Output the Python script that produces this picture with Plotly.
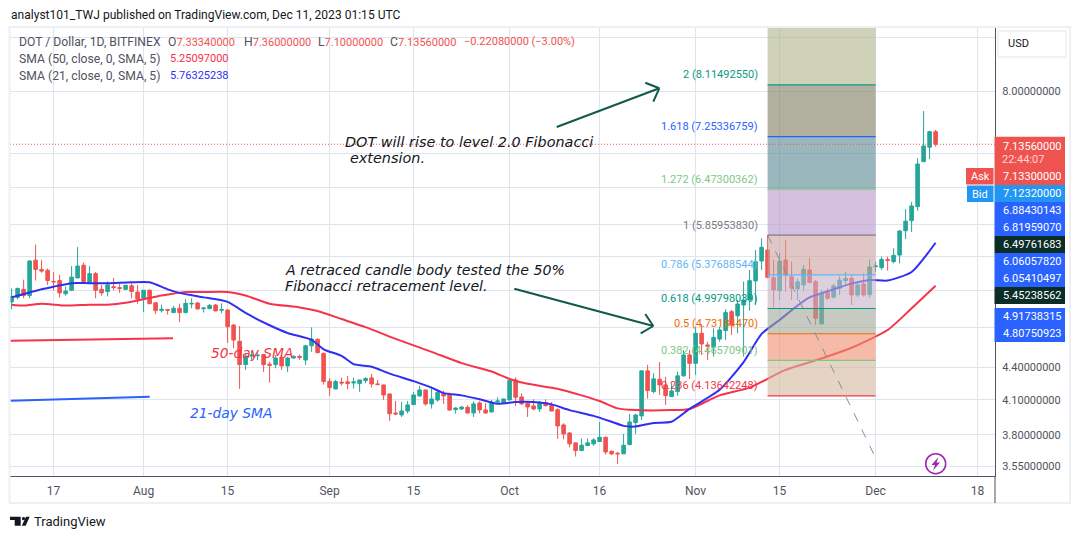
import math
import pandas as pd
import plotly.graph_objects as go

# --- daily candles, 10 Jul 2023 to 11 Dec 2023 ---
start_date = "2023-07-10"
opens = [
    5.07,5.12,5.21,5.14,5.55,5.44,5.43,5.30,5.31,5.16,
    5.20,5.34,5.49,5.29,5.39,5.21,5.185,5.24,5.23,5.21,
    5.25,5.18,5.11,5.20,5.06,4.975,4.985,4.954,5.00,4.954,
    5.047,5.058,4.996,4.996,5.036,4.979,4.982,4.822,4.655,4.426,
    4.508,4.511,4.523,4.429,4.426,4.495,4.413,4.489,4.505,4.47,
    4.61,4.675,4.535,4.269,4.198,4.26,4.263,4.253,4.247,4.275,
    4.30,4.244,4.235,4.153,3.985,3.968,4.002,4.058,4.135,4.189,
    4.064,4.099,4.153,4.144,4.014,4.02,4.034,3.985,4.073,4.011,
    3.994,4.081,4.078,4.099,4.281,4.126,4.07,4.046,4.02,4.07,
    4.055,4.014,3.883,3.816,3.735,3.673,3.714,3.727,3.746,3.781,
    3.668,3.652,3.647,3.722,3.903,3.96,4.366,4.174,4.288,4.235,
    4.129,4.174,4.319,4.519,4.438,4.737,4.618,4.595,4.678,4.764,
    4.964,4.92,5.036,5.091,5.306,5.54,5.674,5.344,5.196,5.552,
    5.355,5.215,5.26,5.433,5.299,4.833,5.173,5.121,5.222,5.309,
    5.336,5.147,5.272,5.151,5.473,5.461,5.556,5.532,5.612,5.916,
    6.046,6.233,6.871,7.09,7.3334,
]
highs = [
    5.22,5.23,5.32,5.55,5.74,5.55,5.45,5.41,5.375,5.24,
    5.48,5.71,5.52,5.48,5.41,5.26,5.30,5.34,5.28,5.26,
    5.28,5.26,5.20,5.21,5.07,5.04,4.99,5.025,5.05,5.10,
    5.11,5.07,5.01,5.047,5.047,5.054,4.989,4.831,4.812,4.532,
    4.561,4.55,4.526,4.454,4.517,4.523,4.502,4.517,4.523,4.62,
    4.798,4.685,4.542,4.297,4.281,4.303,4.319,4.303,4.281,4.306,
    4.337,4.281,4.235,4.153,4.09,4.081,4.09,4.171,4.226,4.189,
    4.22,4.189,4.183,4.165,4.034,4.046,4.055,4.087,4.087,4.07,
    4.099,4.123,4.111,4.288,4.306,4.159,4.084,4.105,4.09,4.105,
    4.081,4.026,3.897,3.822,3.737,3.77,3.77,3.773,3.908,3.786,
    3.673,3.662,3.808,3.977,3.977,4.366,4.423,4.344,4.451,4.31,
    4.25,4.359,4.568,4.568,4.805,4.822,4.651,4.788,4.805,4.989,
    4.982,5.091,5.299,5.433,5.674,5.819,5.8595,5.552,5.633,5.798,
    5.532,5.336,5.492,5.58,5.317,5.203,5.222,5.272,5.363,5.413,
    5.375,5.28,5.394,5.56,5.532,5.593,5.593,5.695,5.925,6.20,
    6.296,6.92,7.668,7.348,7.36,
]
lows = [
    4.99,5.10,5.11,5.11,5.31,5.40,5.26,5.20,5.12,5.14,
    5.19,5.34,5.28,5.28,5.11,5.14,5.13,5.20,5.17,5.205,
    5.11,5.05,4.96,5.047,4.94,4.954,4.933,4.95,4.853,4.947,
    5.00,4.99,4.954,4.995,4.968,4.947,4.638,4.585,4.199,4.375,
    4.47,4.47,4.356,4.256,4.391,4.375,4.356,4.483,4.47,4.423,
    4.55,4.535,4.238,4.135,4.195,4.229,4.195,4.201,4.171,4.25,
    4.21,4.235,4.099,3.917,3.965,3.951,3.982,4.055,4.129,4.049,
    4.023,4.084,4.064,4.002,3.979,4.011,3.979,3.951,3.982,3.979,
    3.988,4.064,4.075,4.099,4.046,4.058,3.951,4.008,3.994,4.04,
    4.0,3.767,3.764,3.70,3.626,3.67,3.711,3.711,3.746,3.642,
    3.637,3.569,3.647,3.714,3.808,3.925,4.111,4.159,4.144,4.055,
    4.129,4.138,4.312,4.29,4.328,4.519,4.47,4.503,4.651,4.668,
    4.72,4.737,4.503,4.975,5.036,5.433,5.336,5.01,5.091,5.185,
    5.091,5.091,5.196,5.28,4.822,4.833,5.091,5.11,5.147,5.26,
    5.036,5.121,5.128,5.117,5.413,5.433,5.425,5.512,5.512,5.81,
    5.90,6.178,6.866,6.91,7.10,
]
closes = [
    5.13,5.22,5.14,5.54,5.44,5.42,5.31,5.295,5.17,5.19,
    5.35,5.48,5.30,5.39,5.20,5.17,5.26,5.23,5.22,5.256,
    5.185,5.10,5.20,5.05,4.975,4.99,4.98,5.00,4.954,5.054,
    5.054,4.993,5.003,5.032,4.972,4.985,4.805,4.668,4.426,4.508,
    4.517,4.517,4.426,4.42,4.489,4.413,4.489,4.505,4.495,4.61,
    4.678,4.542,4.266,4.21,4.266,4.253,4.247,4.263,4.281,4.294,
    4.244,4.238,4.144,3.979,3.977,4.002,4.055,4.144,4.189,4.064,
    4.108,4.165,4.135,4.011,4.028,4.037,3.985,4.064,4.011,3.985,
    4.081,4.09,4.108,4.275,4.123,4.064,4.037,4.02,4.078,4.049,
    4.002,3.875,3.808,3.727,3.673,3.716,3.735,3.759,3.781,3.662,
    3.647,3.647,3.716,3.908,3.968,4.366,4.183,4.291,4.235,4.138,
    4.18,4.319,4.519,4.438,4.737,4.628,4.605,4.695,4.771,4.954,
    4.82,5.047,5.091,5.309,5.532,5.707,5.347,5.203,5.54,5.375,
    5.222,5.295,5.441,5.287,4.893,5.166,5.11,5.249,5.317,5.336,
    5.147,5.26,5.147,5.469,5.48,5.56,5.548,5.608,5.912,6.04,
    6.242,6.836,7.109,7.333,7.1356,
]

# --- moving averages, sampled along the curves ---
sma21_dates = [
    "2023-07-10","2023-07-15","2023-07-17","2023-07-20","2023-07-23","2023-07-26","2023-07-30",
    "2023-08-02","2023-08-05","2023-08-07","2023-08-11","2023-08-15","2023-08-18","2023-08-22",
    "2023-08-25","2023-08-29","2023-08-31","2023-09-03","2023-09-05","2023-09-08","2023-09-11",
    "2023-09-15","2023-09-18","2023-09-20","2023-09-23","2023-09-26","2023-09-29","2023-10-02",
    "2023-10-05","2023-10-08","2023-10-11","2023-10-15","2023-10-18","2023-10-20","2023-10-22",
    "2023-10-25","2023-10-28","2023-10-31","2023-11-05","2023-11-09","2023-11-12","2023-11-15",
    "2023-11-18","2023-11-20","2023-11-24","2023-11-27","2023-11-30","2023-12-03","2023-12-07",
    "2023-12-11",
]
sma21_values = [
    5.12,5.21,5.24,5.28,5.28,5.28,5.29,5.29,5.21,5.17,5.12,5.07,4.95,4.82,4.74,4.67,4.575,
    4.51,4.43,4.405,4.34,4.27,4.21,4.16,4.14,4.105,4.065,4.08,4.08,4.06,4.01,3.96,3.91,3.875,
    3.87,3.90,3.91,4.02,4.19,4.45,4.73,4.875,5.03,5.12,5.21,5.275,5.317,5.31,5.41,5.76325238,
]
sma50_dates = [
    "2023-07-10","2023-07-12","2023-07-15","2023-07-19","2023-07-23","2023-07-26","2023-07-29",
    "2023-08-01","2023-08-04","2023-08-08","2023-08-11","2023-08-15","2023-08-18","2023-08-22",
    "2023-08-27","2023-08-30","2023-09-03","2023-09-07","2023-09-12","2023-09-18","2023-09-23",
    "2023-09-28","2023-10-01","2023-10-04","2023-10-09","2023-10-13","2023-10-16","2023-10-19",
    "2023-10-22","2023-10-28","2023-10-31","2023-11-05","2023-11-10","2023-11-16","2023-11-22",
    "2023-11-27","2023-12-03","2023-12-07","2023-12-11",
]
sma50_values = [
    5.04,5.03,5.05,5.03,5.04,5.04,5.06,5.10,5.14,5.18,5.18,5.18,5.14,5.05,5.01,4.97,4.885,4.80,
    4.68,4.55,4.44,4.36,4.29,4.245,4.20,4.14,4.09,4.025,4.01,4.01,4.02,4.14,4.21,4.375,4.485,
    4.59,4.77,5.0,5.25097,
]

# --- Fibonacci tool ---
fib_start = "2023-11-13"
fib_end = "2023-12-01"
fib_ratios = ["2", "1.618", "1.272", "1", "0.786", "0.618", "0.5", "0.382", "0.236"]
fib_prices = [8.1149255, 7.25336759, 6.47300362, 5.8595383, 5.37688544,
              4.99798039, 4.73184470, 4.46570901, 4.13642248]
fib_line_colors = ["#089981", "#2962ff", "#81c784", "#787b86", "#64b5f6",
                   "#089981", "#ef6c00", "#81c784", "#f23645"]
fib_band_colors = ["rgba(175,180,137,0.6)", "rgba(127,125,97,0.6)", "rgba(87,135,147,0.6)",
                   "rgba(183,150,200,0.6)", "rgba(203,160,157,0.6)", "rgba(198,177,198,0.6)",
                   "rgba(162,167,152,0.6)", "rgba(240,142,110,0.6)", "rgba(212,183,155,0.6)"]
trend_end_price = 3.615

# --- axes ---
grid_prices = [9, 8, 7, 6.5, 6, 5.6, 5.2, 4.8, 4.4, 4.1, 3.8, 3.55]
price_labels = ["", "8.00000000", "", "", "", "", "", "", "4.40000000", "4.10000000",
                "3.80000000", "3.55000000"]
date_ticks = ["2023-07-17", "2023-08-01", "2023-08-15", "2023-09-01", "2023-09-15", "2023-10-01",
              "2023-10-16", "2023-11-01", "2023-11-15", "2023-12-01", "2023-12-18"]
date_labels = ["17", "Aug", "15", "Sep", "15", "Oct", "16", "Nov", "15", "Dec", "18"]

# --- price scale tags: text, colour ---
scale_tags = [
    ("7.13300000", "#ef5350"), ("7.12320000", "#2196f3"), ("6.88430143", "#2962ff"),
    ("6.81959070", "#2962ff"), ("6.49761683", "#0a2d26"), ("6.06057820", "#2962ff"),
    ("6.05410497", "#2962ff"), ("5.45238562", "#0a2d26"),
]
lower_tags = [("4.91738315", "#2962ff"), ("4.80750923", "#2962ff")]
last_close = 7.1356

UP, DOWN = "#26a69a", "#ef5350"
AXIS_TEXT = "#50535e"
UI_FONT = "Roboto"
NOTE_FONT = "DejaVu Sans"
INK = "#131722"
GRID = "#dde5ee"

# plot rectangle in the 1080x539 page
L, R, T, B = 10, 995, 27, 476
W, H = 1080, 539


def px(x):
    return (x - L) / (R - L)


def py(y):
    return (B - y) / (B - T)


def price_at(y):
    return 8 * math.exp((91.5 - y) / 461.3)


aug1 = pd.Timestamp("2023-08-01")
x_low = aug1 + pd.Timedelta(days=(L - 143.6) / 6)
x_high = aug1 + pd.Timedelta(days=(R - 143.6) / 6)
chart_top = price_at(T)
chart_bottom = price_at(B)

dates = pd.date_range(start_date, periods=len(closes), freq="D")

fig = go.Figure()
fig.add_trace(go.Scatter(x=sma50_dates, y=sma50_values, mode="lines",
                         line=dict(color="#f7334b", width=2, shape="spline", smoothing=0.6),
                         hoverinfo="skip", showlegend=False))
fig.add_trace(go.Scatter(x=sma21_dates, y=sma21_values, mode="lines",
                         line=dict(color="#2f2ff2", width=2, shape="spline", smoothing=0.6),
                         hoverinfo="skip", showlegend=False))
fig.add_trace(go.Candlestick(
    x=dates, open=opens, high=highs, low=lows, close=closes, whiskerwidth=0,
    increasing=dict(line=dict(color=UP, width=1), fillcolor=UP),
    decreasing=dict(line=dict(color=DOWN, width=1), fillcolor=DOWN),
    showlegend=False,
))

shapes = []
annotations = []


def paper_line(x0, y0, x1, y1, color, width=2):
    shapes.append(dict(type="line", xref="paper", yref="paper", x0=px(x0), x1=px(x1),
                       y0=py(y0), y1=py(y1), line=dict(color=color, width=width)))


def paper_rect(x0, y0, x1, y1, fill, border=None, width=0):
    shapes.append(dict(type="rect", xref="paper", yref="paper", x0=px(x0), x1=px(x1),
                       y0=py(y0), y1=py(y1), fillcolor=fill, line=dict(color=border or fill, width=width)))


def label(x, y, text, color=AXIS_TEXT, size=12, family=UI_FONT, anchor="left", style="normal"):
    annotations.append(dict(xref="paper", yref="paper", x=px(x), y=py(y), text=text,
                            showarrow=False, xanchor=anchor, yanchor="middle",
                            borderpad=0, align=anchor,
                            font=dict(color=color, size=size, family=family, style=style)))


# Fibonacci bands: the first one runs from level 2 to the top of the pane
band_edges = [chart_top] + fib_prices
for i, fill in enumerate(fib_band_colors):
    shapes.append(dict(type="rect", xref="x", yref="y", x0=fib_start, x1=fib_end,
                       y0=band_edges[i + 1], y1=band_edges[i], fillcolor=fill,
                       line=dict(width=0), layer="above"))
for price, ratio, color in zip(fib_prices, fib_ratios, fib_line_colors):
    shapes.append(dict(type="line", xref="x", yref="y", x0=fib_start, x1=fib_end,
                       y0=price, y1=price, line=dict(color=color, width=1.2), layer="above"))
    annotations.append(dict(xref="x", yref="y", x=fib_start, y=math.log10(price),
                            text=f"{ratio} ({price:.8f})", showarrow=False, xanchor="right",
                            yanchor="middle", xshift=-8, yshift=10,
                            font=dict(color=color, size=11, family=UI_FONT)))

# dashed swing line of the Fibonacci tool
shapes.append(dict(type="line", xref="x", yref="y", x0=fib_start, x1=fib_end,
                   y0=fib_prices[3], y1=trend_end_price,
                   line=dict(color="#8a8d96", width=1, dash="dash"), layer="above"))

# last price line
shapes.append(dict(type="line", xref="paper", yref="y", x0=0, x1=1, y0=last_close, y1=last_close,
                   line=dict(color="#ef5350", width=1, dash="1px,2px"), layer="above"))

# hand drawn notes
paper_line(556.7, 127, 659.3, 88.3, "#0f5a4a")
paper_line(645.3, 82.7, 659.3, 88.3, "#0f5a4a")
paper_line(659.3, 88.3, 653.3, 101.7, "#0f5a4a")
paper_line(514.3, 288.7, 653.3, 326, "#0f5a4a")
paper_line(645.3, 314, 653.3, 326, "#0f5a4a")
paper_line(653.3, 326, 640.7, 333.3, "#0f5a4a")
paper_line(10.6, 340.7, 173, 338.3, "#f7334b")
paper_line(10.6, 400.7, 149.7, 396.7, "#2962ff")
label(343.5, 141.7, "DOT will rise to level 2.0 Fibonacci", INK, 14.4, NOTE_FONT, style="italic")
label(349, 158, "extension.", INK, 14.4, NOTE_FONT, style="italic")
label(283.5, 270, "A retraced candle body tested the 50%", INK, 14.2, NOTE_FONT, style="italic")
label(283.5, 286, "Fibonacci retracement level.", INK, 14.2, NOTE_FONT, style="italic")
label(210, 352.7, "50-day SMA", "#f23645", 13.8, NOTE_FONT, style="italic")
label(189, 412.7, "21-day SMA", "#2962ff", 13.8, NOTE_FONT, style="italic")

# lightning badge
shapes.append(dict(type="circle", xref="paper", yref="paper", x0=px(925.7), x1=px(945.7),
                   y0=py(473.7), y1=py(453.7), line=dict(color="#9c27b0", width=1.5)))
bolt = [(938.5, 457), (931.5, 465), (935, 465), (933, 470.5), (940, 462.5), (936.5, 462.5)]
shapes.append(dict(type="path", xref="paper", yref="paper", fillcolor="#9c27b0", line=dict(width=0),
                   path="M " + " L ".join(f"{px(a):.5f} {py(b):.5f}" for a, b in bolt) + " Z"))

# outer frame and currency button
paper_line(10, 27, 1070, 27, "#eef0f4", 2)
paper_line(9.5, 26, 9.5, 503, "#eef0f4", 2)
paper_line(1070, 26, 1070, 503, "#eef0f4", 2)
paper_line(9, 503, 1071, 503, "#eef0f4", 2)
paper_line(995, 476, 995, 503, AXIS_TEXT, 1)
paper_rect(998, 31, 1066, 57, "#ffffff", "#eceef2", 1.5)
label(1006.5, 43.5, "USD", INK, 11)

# price scale tags
tag_left, tag_right, tag_h = 994.5, 1065, 17
paper_rect(tag_left, 136.7, tag_right, 168, "#ef5350")
label(1001.5, 146, "7.13560000", "#ffffff", 11)
label(1001.5, 160, "22:44:07", "#ffd5d5", 11)
y_cursor = 168
for text, color in scale_tags:
    paper_rect(tag_left, y_cursor, tag_right, y_cursor + tag_h, color)
    label(1001.5, y_cursor + tag_h / 2, text, "#ffffff", 11)
    y_cursor += tag_h
y_cursor = 308
for text, color in lower_tags:
    paper_rect(tag_left, y_cursor, tag_right, y_cursor + tag_h, color)
    label(1001.5, y_cursor + tag_h / 2, text, "#ffffff", 11)
    y_cursor += tag_h
paper_rect(966, 168, 993.5, 184.5, "#ef5350")
label(970, 176.5, "Ask", "#ffffff", 11)
paper_rect(967, 185.5, 993.5, 202, "#2196f3")
label(971, 194, "Bid", "#ffffff", 11)

# header lines
label(9.5, 14.5, "analyst101_TWJ published on TradingView.com, Dec 11, 2023 01:15 UTC", INK, 12.05)
label(18, 42, "DOT / Dollar, 1D, BITFINEX", AXIS_TEXT, 12.2)
VALUE_RED = 'style="color:#ef5350;font-size:11px"'
label(167, 42, f'O<span {VALUE_RED}>7.33340000</span>', AXIS_TEXT, 12.2)
label(242.5, 42, f'H<span {VALUE_RED}>7.36000000</span>', AXIS_TEXT, 12.2)
label(316.5, 42, f'L<span {VALUE_RED}>7.10000000</span>', AXIS_TEXT, 12.2)
label(388.5, 42, f'C<span {VALUE_RED}>7.13560000</span>', AXIS_TEXT, 12.2)
label(463, 42, "\u22120.22080000 (\u22123.00%)", "#ef5350", 11)
label(18, 59, "SMA (50, close, 0, SMA, 5)", AXIS_TEXT, 12.2)
label(169, 59, "5.25097000", "#f7304a", 11)
label(18, 76, "SMA (21, close, 0, SMA, 5)", AXIS_TEXT, 12.2)
label(169, 76, "5.76325238", "#2f2ff2", 11)

# brand mark
logo_bar = [(10, 516.7), (20.7, 516.7), (20.7, 525.8), (14.7, 525.8), (14.7, 520), (10, 520)]
logo_slant = [(26, 516.7), (29.7, 516.7), (25.6, 525.8), (21.8, 525.8)]
for poly in (logo_bar, logo_slant):
    shapes.append(dict(type="path", xref="paper", yref="paper", fillcolor=INK, line=dict(width=0),
                       path="M " + " L ".join(f"{px(a):.5f} {py(b):.5f}" for a, b in poly) + " Z"))
shapes.append(dict(type="circle", xref="paper", yref="paper", x0=px(21.8), x1=px(25.2),
                   y0=py(520.3), y1=py(516.9), fillcolor=INK, line=dict(width=0)))
label(33, 521, "TradingView", INK, 13)

fig.update_layout(
    width=W, height=H,
    margin=dict(l=L, r=W - R, t=T, b=H - B, pad=0),
    paper_bgcolor="#ffffff", plot_bgcolor="#ffffff",
    boxgap=0.15,
    showlegend=False,
    shapes=shapes,
    annotations=annotations,
    xaxis=dict(
        type="date", range=[x_low, x_high], rangeslider=dict(visible=False),
        tickmode="array", tickvals=date_ticks, ticktext=date_labels,
        showgrid=True, gridcolor=GRID, gridwidth=1, zeroline=False,
        showline=True, linecolor=AXIS_TEXT, linewidth=1, ticks="", ticklabelstandoff=4,
        tickfont=dict(family=UI_FONT, size=12, color=AXIS_TEXT), tickangle=0,
    ),
    yaxis=dict(
        type="log", side="right",
        range=[math.log10(chart_bottom), math.log10(chart_top)],
        tickmode="array", tickvals=grid_prices, ticktext=price_labels,
        showgrid=True, gridcolor=GRID, gridwidth=1, zeroline=False,
        showline=True, linecolor=AXIS_TEXT, linewidth=1, ticks="", ticklabelstandoff=4,
        tickfont=dict(family=UI_FONT, size=11, color=AXIS_TEXT),
    ),
)

fig.write_html("out.html", config=dict(displayModeBar=False))
